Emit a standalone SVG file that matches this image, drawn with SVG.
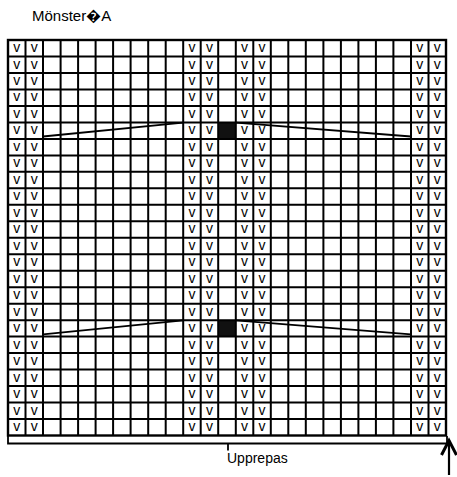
<svg xmlns="http://www.w3.org/2000/svg" width="457" height="477" viewBox="0 0 457 477">
<style>
.grid{fill:none;stroke:#000;stroke-width:2}
.border{fill:none;stroke:#000;stroke-width:2.4}
.v{font-family:"Liberation Sans",Arial,sans-serif;font-size:14px;fill:#000;text-anchor:middle}
.lbl{font-family:"Liberation Sans",Arial,sans-serif;fill:#000}
.diag{stroke:#000;stroke-width:1.8;fill:none}
.blk{fill:#111}
</style>
<rect width="457" height="477" fill="#fff"/>
<text class="lbl" x="32" y="21" font-size="15">Mönster&#xFFFD;A</text>
<g id="chart">
<g id="black-cells">
<rect class="blk" x="218.2" y="122.4" width="17.5" height="16.5"/>
<rect class="blk" x="218.2" y="320.2" width="17.5" height="16.4"/>
</g>
<path id="grid" class="grid" d="M25.5,40V435.5M43,40V435.5M60.6,40V435.5M78.1,40V435.5M95.6,40V435.5M113.1,40V435.5M130.6,40V435.5M148.2,40V435.5M165.7,40V435.5M183.2,40V435.5M200.7,40V435.5M218.2,40V435.5M235.8,40V435.5M253.3,40V435.5M270.8,40V435.5M288.3,40V435.5M305.8,40V435.5M323.4,40V435.5M340.9,40V435.5M358.4,40V435.5M375.9,40V435.5M393.4,40V435.5M411,40V435.5M428.5,40V435.5M8,56.5H446M8,73H446M8,89.4H446M8,105.9H446M8,122.4H446M8,138.9H446M8,155.4H446M8,171.8H446M8,188.3H446M8,204.8H446M8,221.3H446M8,237.8H446M8,254.2H446M8,270.7H446M8,287.2H446M8,303.7H446M8,320.2H446M8,336.6H446M8,353.1H446M8,369.6H446M8,386.1H446M8,402.5H446M8,419H446"/>
<rect class="border" x="8" y="40" width="438" height="395.5"/>
</g>
<g id="stitches">
<g id="col-a">
<text class="v" x="16.8" y="52">v</text><text class="v" x="34.3" y="52">v</text>
<text class="v" x="16.8" y="68.5">v</text><text class="v" x="34.3" y="68.5">v</text>
<text class="v" x="16.8" y="85">v</text><text class="v" x="34.3" y="85">v</text>
<text class="v" x="16.8" y="101.4">v</text><text class="v" x="34.3" y="101.4">v</text>
<text class="v" x="16.8" y="117.9">v</text><text class="v" x="34.3" y="117.9">v</text>
<text class="v" x="16.8" y="134.4">v</text><text class="v" x="34.3" y="134.4">v</text>
<text class="v" x="16.8" y="150.9">v</text><text class="v" x="34.3" y="150.9">v</text>
<text class="v" x="16.8" y="167.4">v</text><text class="v" x="34.3" y="167.4">v</text>
<text class="v" x="16.8" y="183.8">v</text><text class="v" x="34.3" y="183.8">v</text>
<text class="v" x="16.8" y="200.3">v</text><text class="v" x="34.3" y="200.3">v</text>
<text class="v" x="16.8" y="216.8">v</text><text class="v" x="34.3" y="216.8">v</text>
<text class="v" x="16.8" y="233.3">v</text><text class="v" x="34.3" y="233.3">v</text>
<text class="v" x="16.8" y="249.8">v</text><text class="v" x="34.3" y="249.8">v</text>
<text class="v" x="16.8" y="266.2">v</text><text class="v" x="34.3" y="266.2">v</text>
<text class="v" x="16.8" y="282.7">v</text><text class="v" x="34.3" y="282.7">v</text>
<text class="v" x="16.8" y="299.2">v</text><text class="v" x="34.3" y="299.2">v</text>
<text class="v" x="16.8" y="315.7">v</text><text class="v" x="34.3" y="315.7">v</text>
<text class="v" x="16.8" y="332.2">v</text><text class="v" x="34.3" y="332.2">v</text>
<text class="v" x="16.8" y="348.6">v</text><text class="v" x="34.3" y="348.6">v</text>
<text class="v" x="16.8" y="365.1">v</text><text class="v" x="34.3" y="365.1">v</text>
<text class="v" x="16.8" y="381.6">v</text><text class="v" x="34.3" y="381.6">v</text>
<text class="v" x="16.8" y="398.1">v</text><text class="v" x="34.3" y="398.1">v</text>
<text class="v" x="16.8" y="414.5">v</text><text class="v" x="34.3" y="414.5">v</text>
<text class="v" x="16.8" y="431">v</text><text class="v" x="34.3" y="431">v</text>
</g>
<g id="col-b">
<text class="v" x="192" y="52">v</text><text class="v" x="209.5" y="52">v</text>
<text class="v" x="192" y="68.5">v</text><text class="v" x="209.5" y="68.5">v</text>
<text class="v" x="192" y="85">v</text><text class="v" x="209.5" y="85">v</text>
<text class="v" x="192" y="101.4">v</text><text class="v" x="209.5" y="101.4">v</text>
<text class="v" x="192" y="117.9">v</text><text class="v" x="209.5" y="117.9">v</text>
<text class="v" x="192" y="134.4">v</text><text class="v" x="209.5" y="134.4">v</text>
<text class="v" x="192" y="150.9">v</text><text class="v" x="209.5" y="150.9">v</text>
<text class="v" x="192" y="167.4">v</text><text class="v" x="209.5" y="167.4">v</text>
<text class="v" x="192" y="183.8">v</text><text class="v" x="209.5" y="183.8">v</text>
<text class="v" x="192" y="200.3">v</text><text class="v" x="209.5" y="200.3">v</text>
<text class="v" x="192" y="216.8">v</text><text class="v" x="209.5" y="216.8">v</text>
<text class="v" x="192" y="233.3">v</text><text class="v" x="209.5" y="233.3">v</text>
<text class="v" x="192" y="249.8">v</text><text class="v" x="209.5" y="249.8">v</text>
<text class="v" x="192" y="266.2">v</text><text class="v" x="209.5" y="266.2">v</text>
<text class="v" x="192" y="282.7">v</text><text class="v" x="209.5" y="282.7">v</text>
<text class="v" x="192" y="299.2">v</text><text class="v" x="209.5" y="299.2">v</text>
<text class="v" x="192" y="315.7">v</text><text class="v" x="209.5" y="315.7">v</text>
<text class="v" x="192" y="332.2">v</text><text class="v" x="209.5" y="332.2">v</text>
<text class="v" x="192" y="348.6">v</text><text class="v" x="209.5" y="348.6">v</text>
<text class="v" x="192" y="365.1">v</text><text class="v" x="209.5" y="365.1">v</text>
<text class="v" x="192" y="381.6">v</text><text class="v" x="209.5" y="381.6">v</text>
<text class="v" x="192" y="398.1">v</text><text class="v" x="209.5" y="398.1">v</text>
<text class="v" x="192" y="414.5">v</text><text class="v" x="209.5" y="414.5">v</text>
<text class="v" x="192" y="431">v</text><text class="v" x="209.5" y="431">v</text>
</g>
<g id="col-c">
<text class="v" x="244.5" y="52">v</text><text class="v" x="262" y="52">v</text>
<text class="v" x="244.5" y="68.5">v</text><text class="v" x="262" y="68.5">v</text>
<text class="v" x="244.5" y="85">v</text><text class="v" x="262" y="85">v</text>
<text class="v" x="244.5" y="101.4">v</text><text class="v" x="262" y="101.4">v</text>
<text class="v" x="244.5" y="117.9">v</text><text class="v" x="262" y="117.9">v</text>
<text class="v" x="244.5" y="134.4">v</text><text class="v" x="262" y="134.4">v</text>
<text class="v" x="244.5" y="150.9">v</text><text class="v" x="262" y="150.9">v</text>
<text class="v" x="244.5" y="167.4">v</text><text class="v" x="262" y="167.4">v</text>
<text class="v" x="244.5" y="183.8">v</text><text class="v" x="262" y="183.8">v</text>
<text class="v" x="244.5" y="200.3">v</text><text class="v" x="262" y="200.3">v</text>
<text class="v" x="244.5" y="216.8">v</text><text class="v" x="262" y="216.8">v</text>
<text class="v" x="244.5" y="233.3">v</text><text class="v" x="262" y="233.3">v</text>
<text class="v" x="244.5" y="249.8">v</text><text class="v" x="262" y="249.8">v</text>
<text class="v" x="244.5" y="266.2">v</text><text class="v" x="262" y="266.2">v</text>
<text class="v" x="244.5" y="282.7">v</text><text class="v" x="262" y="282.7">v</text>
<text class="v" x="244.5" y="299.2">v</text><text class="v" x="262" y="299.2">v</text>
<text class="v" x="244.5" y="315.7">v</text><text class="v" x="262" y="315.7">v</text>
<text class="v" x="244.5" y="332.2">v</text><text class="v" x="262" y="332.2">v</text>
<text class="v" x="244.5" y="348.6">v</text><text class="v" x="262" y="348.6">v</text>
<text class="v" x="244.5" y="365.1">v</text><text class="v" x="262" y="365.1">v</text>
<text class="v" x="244.5" y="381.6">v</text><text class="v" x="262" y="381.6">v</text>
<text class="v" x="244.5" y="398.1">v</text><text class="v" x="262" y="398.1">v</text>
<text class="v" x="244.5" y="414.5">v</text><text class="v" x="262" y="414.5">v</text>
<text class="v" x="244.5" y="431">v</text><text class="v" x="262" y="431">v</text>
</g>
<g id="col-d">
<text class="v" x="419.7" y="52">v</text><text class="v" x="437.2" y="52">v</text>
<text class="v" x="419.7" y="68.5">v</text><text class="v" x="437.2" y="68.5">v</text>
<text class="v" x="419.7" y="85">v</text><text class="v" x="437.2" y="85">v</text>
<text class="v" x="419.7" y="101.4">v</text><text class="v" x="437.2" y="101.4">v</text>
<text class="v" x="419.7" y="117.9">v</text><text class="v" x="437.2" y="117.9">v</text>
<text class="v" x="419.7" y="134.4">v</text><text class="v" x="437.2" y="134.4">v</text>
<text class="v" x="419.7" y="150.9">v</text><text class="v" x="437.2" y="150.9">v</text>
<text class="v" x="419.7" y="167.4">v</text><text class="v" x="437.2" y="167.4">v</text>
<text class="v" x="419.7" y="183.8">v</text><text class="v" x="437.2" y="183.8">v</text>
<text class="v" x="419.7" y="200.3">v</text><text class="v" x="437.2" y="200.3">v</text>
<text class="v" x="419.7" y="216.8">v</text><text class="v" x="437.2" y="216.8">v</text>
<text class="v" x="419.7" y="233.3">v</text><text class="v" x="437.2" y="233.3">v</text>
<text class="v" x="419.7" y="249.8">v</text><text class="v" x="437.2" y="249.8">v</text>
<text class="v" x="419.7" y="266.2">v</text><text class="v" x="437.2" y="266.2">v</text>
<text class="v" x="419.7" y="282.7">v</text><text class="v" x="437.2" y="282.7">v</text>
<text class="v" x="419.7" y="299.2">v</text><text class="v" x="437.2" y="299.2">v</text>
<text class="v" x="419.7" y="315.7">v</text><text class="v" x="437.2" y="315.7">v</text>
<text class="v" x="419.7" y="332.2">v</text><text class="v" x="437.2" y="332.2">v</text>
<text class="v" x="419.7" y="348.6">v</text><text class="v" x="437.2" y="348.6">v</text>
<text class="v" x="419.7" y="365.1">v</text><text class="v" x="437.2" y="365.1">v</text>
<text class="v" x="419.7" y="381.6">v</text><text class="v" x="437.2" y="381.6">v</text>
<text class="v" x="419.7" y="398.1">v</text><text class="v" x="437.2" y="398.1">v</text>
<text class="v" x="419.7" y="414.5">v</text><text class="v" x="437.2" y="414.5">v</text>
<text class="v" x="419.7" y="431">v</text><text class="v" x="437.2" y="431">v</text>
</g>
</g>
<g id="connectors">
<path class="diag" d="M43,136.5L183.2,122.7M235.8,122.7L411,136.5"/>
<path class="diag" d="M43,334.3L183.2,320.4M235.8,320.4L411,334.3"/>
<path class="diag" d="M8,435.5V443.5H447V436M228,443.5V450.5"/>
<path d="M449,440V475" stroke="#000" stroke-width="2.2" fill="none"/>
<path d="M441.5,455L449,440.5L456.5,455" stroke="#000" stroke-width="3" fill="none"/>
</g>
<text class="lbl" x="227" y="463" font-size="14">Upprepas</text>
</svg>
